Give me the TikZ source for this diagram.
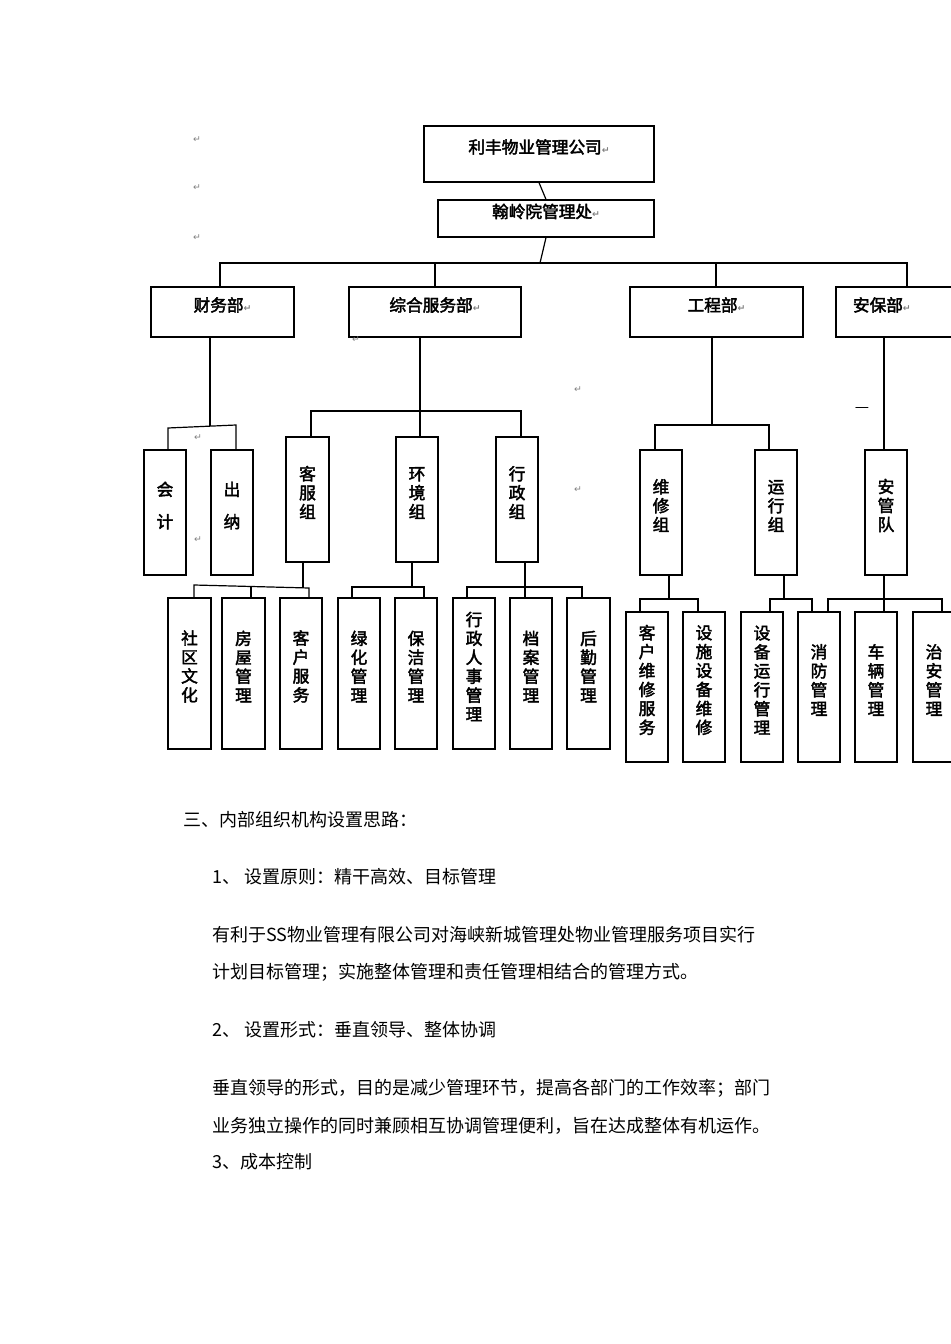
\documentclass[tikz,border=0pt]{standalone}
\usepackage{fontspec}
\setmainfont{Noto Sans CJK SC}[AutoFakeBold=2.5]
\newfontfamily\djv{DejaVu Sans}
\usetikzlibrary{fit}
\newcommand{\ret}{{\djv\color{gray}\fontsize{7pt}{7pt}\selectfont ↵}}
\tikzset{
  box/.style={draw, line width=0.9pt, inner sep=0pt, align=center, font=\bfseries\fontsize{12.5pt}{14.2pt}\selectfont},
  ln/.style={line width=0.9pt},
  body/.style={anchor=west, inner sep=0pt, font=\fontsize{13.5pt}{14pt}\selectfont},
  mk/.style={inner sep=0pt}
}
\newcommand{\bx}[6]{\node[box, fit={(#2,#3)(#4,#5)}] (#1) {#6};}
\begin{document}
\begin{tikzpicture}[x=0.75pt,y=-0.75pt]
\useasboundingbox (0,0) rectangle (950,1344);
% top
\bx{top}{424}{126}{654}{182}{利丰物业管理公司\ret}
\bx{hl}{438}{200}{654}{237}{翰岭院管理处\ret}
\draw[ln] (top.south) -- (hl.south |- hl.north);
\bx{cw}{151}{287}{294}{337}{财务部\ret}
\bx{zh}{349}{287}{521}{337}{综合服务部\ret}
\bx{gc}{630}{287}{803}{337}{工程部\ret}
\bx{ab}{836}{287}{965}{337}{\hspace*{-28pt}安保部\ret}
\draw[ln] (hl.south) -- (540,263);
\draw[ln] (220,287) |- (907,263) -- (907,287);
\draw[ln] (435,263) -- (435,287);
\draw[ln] (716,263) -- (716,287);
% finance
\bx{kj}{144}{450}{186}{575}{会\\[10pt]计}
\bx{cn}{211}{450}{253}{575}{出\\[10pt]纳}
\draw[ln] (210,337) -- (210,426);
\draw[ln] (kj.north -| 168,0) -- (168,428) -- (236,425) -- (cn.north -| 236,0);
% zonghe
\bx{kf}{286}{437}{329}{562}{客\\服\\组\\[14pt]}
\bx{hj}{396}{437}{438}{562}{环\\境\\组\\[14pt]}
\bx{xz}{496}{437}{538}{562}{行\\政\\组\\[14pt]}
\draw[ln] (420,337) -- (420,411);
\draw[ln] (kf.north -| 311,0) |- (521,411) -- (xz.north -| 521,0);
\draw[ln] (420,411) -- (hj.north -| 420,0);
% gongcheng
\bx{wx}{640}{450}{682}{575}{维\\修\\组\\[14pt]}
\bx{yx}{755}{450}{797}{575}{运\\行\\组\\[14pt]}
\draw[ln] (712,337) -- (712,425);
\draw[ln] (wx.north -| 655,0) |- (769,425) -- (yx.north -| 769,0);
% anbao
\bx{ag}{865}{450}{907}{575}{安\\管\\队\\[14pt]}
\draw[ln] (ab.south -| 884,0) -- (ag.north -| 884,0);
\node[mk] (dash) at (862,410) {\fontsize{12pt}{12pt}\selectfont —};
% bottom row 1
\bx{sq}{168}{598}{211}{749}{社\\区\\文\\化\\[6pt]}
\bx{fw}{222}{598}{265}{749}{房\\屋\\管\\理\\[6pt]}
\bx{kh}{280}{598}{322}{749}{客\\户\\服\\务\\[6pt]}
\bx{lh}{338}{598}{380}{749}{绿\\化\\管\\理\\[6pt]}
\bx{bj}{395}{598}{437}{749}{保\\洁\\管\\理\\[6pt]}
\bx{rs}{453}{598}{495}{749}{行\\政\\人\\事\\管\\理}
\bx{da}{510}{598}{552}{749}{档\\案\\管\\理\\[6pt]}
\bx{hq}{567}{598}{610}{749}{后\\勤\\管\\理\\[6pt]}
\draw[ln] (kf.south -| 303,0) -- (303,588);
\draw[ln] (sq.north -| 194,0) -- (194,585) -- (309,588) -- (kh.north -| 309,0);
\draw[ln] (251,587) -- (fw.north -| 251,0);
\draw[ln] (hj.south -| 412,0) -- (412,587);
\draw[ln] (lh.north -| 352,0) |- (424,587) -- (bj.north -| 424,0);
\draw[ln] (xz.south -| 525,0) -- (da.north -| 525,0);
\draw[ln] (rs.north -| 467,0) |- (582,587) -- (hq.north -| 582,0);
% bottom row 2
\bx{khwx}{626}{612}{668}{762}{客\\户\\维\\修\\服\\务}
\bx{sswx}{683}{612}{725}{762}{设\\施\\设\\备\\维\\修}
\bx{sbyx}{741}{612}{783}{762}{设\\备\\运\\行\\管\\理}
\bx{xf}{798}{612}{840}{762}{消\\防\\管\\理\\[10pt]}
\bx{cl}{855}{612}{897}{762}{车\\辆\\管\\理\\[10pt]}
\bx{za}{913}{612}{955}{762}{治\\安\\管\\理\\[10pt]}
\draw[ln] (wx.south -| 669,0) -- (669,599);
\draw[ln] (khwx.north -| 640,0) |- (698,599) -- (sswx.north -| 698,0);
\draw[ln] (yx.south -| 784,0) -- (784,599);
\draw[ln] (sbyx.north -| 770,0) |- (812,599) -- (xf.north -| 812,0);
\draw[ln] (ag.south -| 884,0) -- (cl.north -| 884,0);
\draw[ln] (xf.north -| 828,0) |- (942,599) -- (za.north -| 942,0);
% paragraph marks
\node[mk] (r1) at (197,140) {\ret};
\node[mk] (r2) at (197,188) {\ret};
\node[mk] (r3) at (197,238) {\ret};
\node[mk] (r4) at (578,390) {\ret};
\node[mk] (r5) at (578,490) {\ret};
\node[mk] (r6) at (198,438) {\ret};
\node[mk] (r7) at (198,540) {\ret};
\node[mk] (r8) at (356,340) {\ret};
% body text
\node[body] (t1) at (183,820) {三、内部组织机构设置思路：};
\node[body] (t2) at (212,877) {1、 设置原则：精干高效、目标管理};
\node[body] (t3) at (212,935) {有利于SS物业管理有限公司对海峡新城管理处物业管理服务项目实行};
\node[body] (t4) at (212,972) {计划目标管理；实施整体管理和责任管理相结合的管理方式。};
\node[body] (t5) at (212,1030) {2、 设置形式：垂直领导、整体协调};
\node[body] (t6) at (212,1088) {垂直领导的形式，目的是减少管理环节，提高各部门的工作效率；部门};
\node[body] (t7) at (212,1126) {业务独立操作的同时兼顾相互协调管理便利，旨在达成整体有机运作。};
\node[body] (t8) at (212,1162) {3、成本控制};
\end{tikzpicture}
\end{document}
